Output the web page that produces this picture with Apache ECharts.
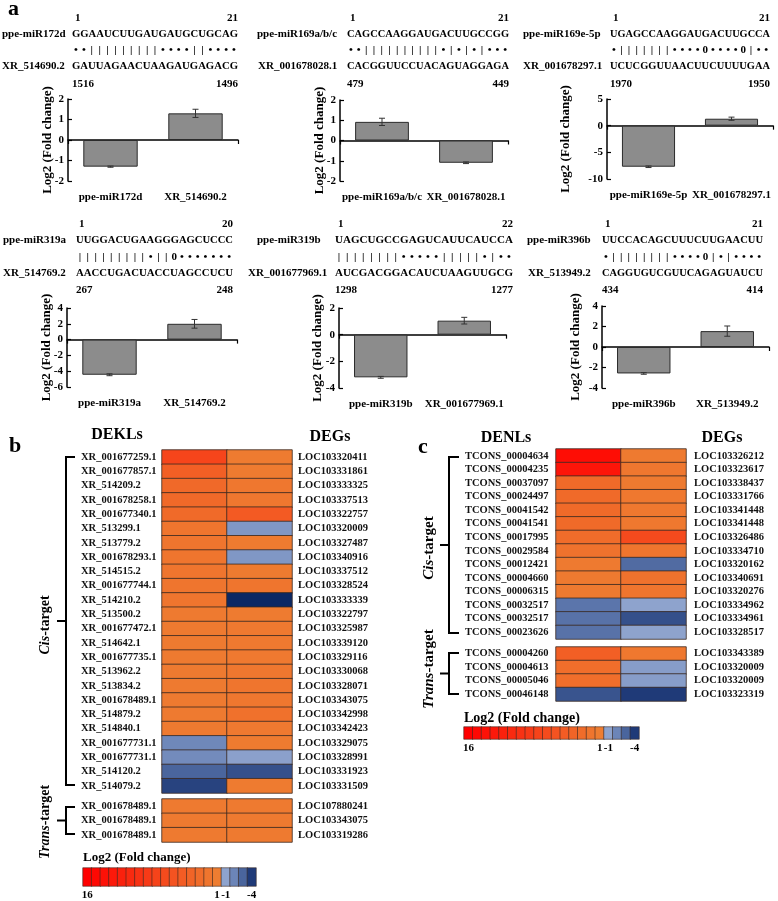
<!DOCTYPE html>
<html><head><meta charset="utf-8">
<script src="https://cdn.jsdelivr.net/npm/echarts@6/dist/echarts.min.js"></script>
<style>html,body{margin:0;padding:0;background:#fff}#c{width:778px;height:901px}</style>
</head><body><div id="c"></div>
<script>
// ---------------- DATA ----------------
const p1Cats = ['ppe-miR172d', 'XR_514690.2'];
const p1Vals = [-1.3, 1.3];
const p1Errs = [0.03, 0.2];
const p1Seq = ['ppe-miR172d', 'GGAAUCUUGAUGAUGCUGCAG', '••|||||||||••••||••••', 'XR_514690.2', 'GAUUAGAACUAAGAUGAGACG'];
const p1Nums = ['1', '21', '1516', '1496'];

const p2Cats = ['ppe-miR169a/b/c', 'XR_001678028.1'];
const p2Vals = [0.92, -1.1];
const p2Errs = [0.18, 0.04];
const p2Seq = ['ppe-miR169a/b/c', 'CAGCCAAGGAUGACUUGCCGG', '••||||||||||•|•|•|•••', 'XR_001678028.1', 'CACGGUUCCUACAGUAGGAGA'];
const p2Nums = ['1', '21', '479', '449'];

const p3Cats = ['ppe-miR169e-5p', 'XR_001678297.1'];
const p3Vals = [-7.7, 1.3];
const p3Errs = [0.15, 0.3];
const p3Seq = ['ppe-miR169e-5p', 'UGAGCCAAGGAUGACUUGCCA', '•|||||||••••0••••0|••', 'XR_001678297.1', 'UCUCGGUUAACUUCUUUUGAA'];
const p3Nums = ['1', '21', '1970', '1950'];

const p4Cats = ['ppe-miR319a', 'XR_514769.2'];
const p4Vals = [-4.45, 2.0];
const p4Errs = [0.12, 0.55];
const p4Seq = ['ppe-miR319a', 'UUGGACUGAAGGGAGCUCCC', '|||||||||•||0•••••••', 'XR_514769.2', 'AACCUGACUACCUAGCCUCU'];
const p4Nums = ['1', '20', '267', '248'];

const p5Cats = ['ppe-miR319b', 'XR_001677969.1'];
const p5Vals = [-3.2, 1.05];
const p5Errs = [0.07, 0.25];
const p5Seq = ['ppe-miR319b', 'UAGCUGCCGAGUCAUUCAUCCA', '||||||||•••••|||||•|••', 'XR_001677969.1', 'AUCGACGGACAUCUAAGUUGCG'];
const p5Nums = ['1', '22', '1298', '1277'];

const p6Cats = ['ppe-miR396b', 'XR_513949.2'];
const p6Vals = [-2.58, 1.55];
const p6Errs = [0.08, 0.5];
const p6Seq = ['ppe-miR396b', 'UUCCACAGCUUUCUUGAACUU', '•||||||||••••0|•|••••', 'XR_513949.2', 'CAGGUGUCGUUCAGAGUAUCU'];
const p6Nums = ['1', '21', '434', '414'];

const bCisDEKL = ['XR_001677259.1','XR_001677857.1','XR_514209.2','XR_001678258.1','XR_001677340.1','XR_513299.1','XR_513779.2','XR_001678293.1','XR_514515.2','XR_001677744.1','XR_514210.2','XR_513500.2','XR_001677472.1','XR_514642.1','XR_001677735.1','XR_513962.2','XR_513834.2','XR_001678489.1','XR_514879.2','XR_514840.1','XR_001677731.1','XR_001677731.1','XR_514120.2','XR_514079.2'];
const bCisDEG = ['LOC103320411','LOC103331861','LOC103333325','LOC103337513','LOC103322757','LOC103320009','LOC103327487','LOC103340916','LOC103337512','LOC103328524','LOC103333339','LOC103322797','LOC103325987','LOC103339120','LOC103329116','LOC103330068','LOC103328071','LOC103343075','LOC103342998','LOC103342423','LOC103329075','LOC103328991','LOC103331923','LOC103331509'];
const bCisKL = [7.8, 4.6, 3.4, 3.4, 3.2, 2.0, 2.0, 2.0, 2.0, 2.0, 2.0, 1.4, 1.4, 1.4, 1.4, 1.4, 1.4, 1.4, 1.4, 1.4, -1.9, -1.8, -3.0, -3.8];
const bCisG  = [1.3, 1.3, 1.8, 1.8, 5.2, -1.4, 1.3, -1.4, 1.3, 2.0, -5.0, 1.3, 1.5, 1.5, 1.5, 1.8, 2.0, 1.8, 2.5, 1.5, 1.3, -1.1, -3.5, 1.3];
const bTransDEKL = ['XR_001678489.1','XR_001678489.1','XR_001678489.1'];
const bTransDEG = ['LOC107880241','LOC103343075','LOC103319286'];
const bTransKL = [1.4, 1.4, 1.4];
const bTransG  = [1.4, 1.4, 1.4];

const cCisDENL = ['TCONS_00004634','TCONS_00004235','TCONS_00037097','TCONS_00024497','TCONS_00041542','TCONS_00041541','TCONS_00017995','TCONS_00029584','TCONS_00012421','TCONS_00004660','TCONS_00006315','TCONS_00032517','TCONS_00032517','TCONS_00023626'];
const cCisDEG = ['LOC103326212','LOC103323617','LOC103338437','LOC103331766','LOC103341448','LOC103341448','LOC103326486','LOC103334710','LOC103320162','LOC103340691','LOC103320276','LOC103334962','LOC103334961','LOC103328517'];
const cCisNL = [14.5, 13.5, 3.2, 3.2, 3.2, 3.2, 3.0, 2.3, 1.4, 1.4, 1.4, -2.5, -2.6, -2.6];
const cCisG  = [1.4, 1.8, 1.4, 1.6, 1.6, 1.6, 7.1, 2.0, -2.8, 2.3, 2.0, -1.0, -3.5, -1.0];
const cTransDENL = ['TCONS_00004260','TCONS_00004613','TCONS_00005046','TCONS_00046148'];
const cTransDEG = ['LOC103343389','LOC103320009','LOC103320009','LOC103323319'];
const cTransNL = [4.6, 2.8, 2.8, -3.4];
const cTransG  = [1.6, -1.2, -1.2, -4.0];

const legendVals = [16, 15, 14, 13, 12, 11, 10, 9, 8, 7, 6, 5, 4, 3, 2, 1, -1, -2, -3, -4];
const legendTicks = ['16', '1', '-1', '-4'];
const yTitle = 'Log2 (Fold change)';

// ---------------- STYLE / LAYOUT ----------------
const FONT = "'Liberation Serif','Times New Roman',serif";
const ctx = document.createElement('canvas').getContext('2d');
function tw(str, size, weight) { ctx.font = (weight || 'bold') + ' ' + size + "px 'Liberation Serif'"; return ctx.measureText(str).width; }
function txt(str, x, y, o) {
  o = o || {};
  return { type: 'text', x: x, y: y, rotation: o.rot || 0, scaleX: o.sx || 1, silent: true, z: 10,
    style: { text: str, fill: '#000', fontFamily: FONT, fontWeight: o.w || 'bold', fontSize: o.size || 11,
      fontStyle: o.fs || 'normal', align: o.align || 'left', verticalAlign: o.va || 'middle', rich: o.rich } };
}

const rowsY = [[18, 34, 50, 66, 84], [224, 240, 257, 273, 290]];
const barPanels = [
  { cats: p1Cats, vals: p1Vals, errs: p1Errs, seq: p1Seq, nums: p1Nums, min: -2, max: 2, interval: 1, grid: { left: 68, top: 99, width: 170, height: 82 }, gap: 14, t: { row: 0, lab: 2, tlab: 2, s0: 72, s1: 238 } },
  { cats: p2Cats, vals: p2Vals, errs: p2Errs, seq: p2Seq, nums: p2Nums, min: -2, max: 2, interval: 1, grid: { left: 340, top: 100, width: 168, height: 81 }, gap: 13.5, t: { row: 0, lab: 257, tlab: 258, s0: 347, s1: 509 } },
  { cats: p3Cats, vals: p3Vals, errs: p3Errs, seq: p3Seq, nums: p3Nums, min: -10, max: 5, interval: 5, grid: { left: 607, top: 99, width: 166, height: 80 }, gap: 34.5, t: { row: 0, lab: 523, tlab: 523, s0: 610, s1: 770 } },
  { cats: p4Cats, vals: p4Vals, errs: p4Errs, seq: p4Seq, nums: p4Nums, min: -6, max: 4, interval: 2, grid: { left: 67, top: 308, width: 170, height: 79 }, gap: 13.5, t: { row: 1, lab: 3, tlab: 3, s0: 76, s1: 233 } },
  { cats: p5Cats, vals: p5Vals, errs: p5Errs, seq: p5Seq, nums: p5Nums, min: -4, max: 2, interval: 2, grid: { left: 339, top: 308, width: 167, height: 80 }, gap: 14.5, t: { row: 1, lab: 257, tlab: 248, s0: 335, s1: 513 } },
  { cats: p6Cats, vals: p6Vals, errs: p6Errs, seq: p6Seq, nums: p6Nums, min: -4, max: 4, interval: 2, grid: { left: 602, top: 306, width: 167, height: 82 }, gap: 19.5, t: { row: 1, lab: 527, tlab: 528, s0: 602, s1: 763 } }
];

const grids = [], xAxes = [], yAxes = [], series = [], graphics = [], heatIdx = [];
const boldLab = { fontFamily: FONT, fontWeight: 'bold', fontSize: 11, color: '#000' };

function errItem(params, api) {
  const x = api.value(0), v = api.value(1), e = api.value(2);
  const a = api.coord([x, v + e]), b = api.coord([x, v - e]);
  const w = 3, st = { stroke: '#333', lineWidth: 1 };
  return { type: 'group', children: [
    { type: 'line', shape: { x1: a[0], y1: a[1], x2: b[0], y2: b[1] }, style: st },
    { type: 'line', shape: { x1: a[0] - w, y1: a[1], x2: a[0] + w, y2: a[1] }, style: st },
    { type: 'line', shape: { x1: b[0] - w, y1: b[1], x2: b[0] + w, y2: b[1] }, style: st }
  ] };
}

barPanels.forEach(function (p) {
  const gi = grids.length;
  grids.push(p.grid);
  const yi = yAxes.length;
  const xl = xAxes.length;
  xAxes.push({ type: 'category', gridIndex: gi, data: p.cats, position: 'bottom',
    axisLine: { show: false, onZero: false }, axisTick: { show: false },
    axisLabel: Object.assign({ margin: 11, interval: 0 }, boldLab) });
  xAxes.push({ type: 'category', gridIndex: gi, data: p.cats, position: 'bottom',
    axisLine: { show: true, onZero: true, onZeroAxisIndex: yi, lineStyle: { color: '#000', width: 1.5 } },
    axisTick: { show: true, length: 4, lineStyle: { color: '#000', width: 1.2 } }, axisLabel: { show: false } });
  yAxes.push({ type: 'value', gridIndex: gi, min: p.min, max: p.max, interval: p.interval,
    axisLine: { show: true, onZero: false, lineStyle: { color: '#000', width: 1.5 } },
    axisTick: { show: true, inside: true, length: 4, lineStyle: { color: '#000', width: 1.2 } },
    axisLabel: Object.assign({ margin: 4 }, boldLab), splitLine: { show: false },
    name: yTitle, nameLocation: 'middle', nameRotate: 90, nameGap: p.gap, nameMoveOverlap: false,
    nameTextStyle: { fontFamily: FONT, fontWeight: 'bold', fontSize: 13, color: '#000' } });
  series.push({ type: 'bar', xAxisIndex: xl, yAxisIndex: yi, data: p.vals, barWidth: '64%', silent: true,
    itemStyle: { color: '#8c8c8c', borderColor: '#2b2b2b', borderWidth: 1 } });
  series.push({ type: 'custom', xAxisIndex: xl, yAxisIndex: yi, silent: true, z: 5,
    data: p.vals.map(function (v, i) { return [i, v, p.errs[i]]; }),
    encode: { x: 0, y: 1 }, renderItem: errItem });

  // alignment text
  const Y = rowsY[p.t.row], t = p.t;
  graphics.push(txt(p.nums[0], t.s0 + 3, Y[0]));
  graphics.push(txt(p.nums[1], t.s1, Y[0], { align: 'right' }));
  graphics.push(txt(p.seq[0], t.lab, Y[1]));
  graphics.push(txt(p.seq[1], t.s0, Y[1], { sx: (t.s1 - t.s0) / tw(p.seq[1], 11) }));
  const m = Array.from(p.seq[2]);
  const pitch = (t.s1 - t.s0) / m.length;
  m.forEach(function (ch, i) { graphics.push(txt(ch, t.s0 + pitch * (i + 0.5), Y[2], { align: 'center' })); });
  graphics.push(txt(p.seq[3], t.tlab, Y[3]));
  graphics.push(txt(p.seq[4], t.s0, Y[3], { sx: (t.s1 - t.s0) / tw(p.seq[4], 11) }));
  graphics.push(txt(p.nums[2], t.s0, Y[4]));
  graphics.push(txt(p.nums[3], t.s1, Y[4], { align: 'right' }));
});

const cellStyle = { borderColor: '#3a2a22', borderWidth: 0.8 };
function heatBlock(grid, leftNames, rightNames, leftVals, rightVals, lm, rm) {
  const gi = grids.length; grids.push(grid);
  const xi = xAxes.length;
  xAxes.push({ type: 'category', gridIndex: gi, data: ['L', 'R'], show: false });
  const yl = yAxes.length;
  const lab = Object.assign({ interval: 0, fontSize: 10.5 }, { fontFamily: FONT, fontWeight: 'bold', color: '#111' });
  yAxes.push({ type: 'category', gridIndex: gi, data: leftNames, inverse: true, position: 'left',
    axisLine: { show: false }, axisTick: { show: false }, axisLabel: Object.assign({ margin: lm, align: 'left' }, lab) });
  yAxes.push({ type: 'category', gridIndex: gi, data: rightNames, inverse: true, position: 'right',
    axisLine: { show: false }, axisTick: { show: false }, axisLabel: Object.assign({ margin: rm, align: 'left' }, lab) });
  const data = leftVals.map(function (v, i) { return [0, i, v]; }).concat(rightVals.map(function (v, i) { return [1, i, v]; }));
  heatIdx.push(series.length);
  series.push({ type: 'heatmap', xAxisIndex: xi, yAxisIndex: yl, data: data, silent: true, itemStyle: cellStyle });
}
heatBlock({ left: 162, top: 450, width: 130, height: 343 }, bCisDEKL, bCisDEG, bCisKL, bCisG, 81, 6);
heatBlock({ left: 162, top: 799, width: 130, height: 43 }, bTransDEKL, bTransDEG, bTransKL, bTransG, 81, 6);
heatBlock({ left: 556, top: 449, width: 130, height: 190 }, cCisDENL, cCisDEG, cCisNL, cCisG, 91, 8);
heatBlock({ left: 556, top: 647, width: 130, height: 54 }, cTransDENL, cTransDEG, cTransNL, cTransG, 91, 8);

function legendBar(grid) {
  const gi = grids.length; grids.push(grid);
  const xi = xAxes.length;
  xAxes.push({ type: 'category', gridIndex: gi, data: legendVals.map(String), axisLine: { show: false }, axisTick: { show: false },
    axisLabel: Object.assign({ interval: 0, margin: 4, formatter: function (v) { return legendTicks.indexOf(v) >= 0 ? v : ''; } }, boldLab) });
  const yi = yAxes.length;
  yAxes.push({ type: 'category', gridIndex: gi, data: ['v'], show: false });
  heatIdx.push(series.length);
  series.push({ type: 'heatmap', xAxisIndex: xi, yAxisIndex: yi, silent: true, itemStyle: { borderColor: '#3a2a22', borderWidth: 0.6 },
    data: legendVals.map(function (v, i) { return [i, 0, v]; }) });
}
legendBar({ left: 83, top: 868, width: 173, height: 18 });
legendBar({ left: 464, top: 727, width: 175, height: 12 });

// colour stops for -5 .. 16
const stops = ['#0c2864', '#1f3a78', '#4a659d', '#6c85b8', '#8ea3cd', '#8ea3cd'];
for (let k = 1; k <= 16; k++) {
  const t = (k - 1) / 15;
  const r = Math.round(238 + 17 * t), g = Math.round(125 * (1 - t)), b = Math.round(49 * (1 - t));
  stops.push('rgb(' + r + ',' + g + ',' + b + ')');
}

// panel letters / headers / brackets
graphics.push(txt('a', 8, 9, { size: 22 }));
graphics.push(txt('b', 9, 446, { size: 22 }));
graphics.push(txt('c', 418, 447, { size: 22 }));
graphics.push(txt('DEKLs', 117, 435, { size: 16, align: 'center' }));
graphics.push(txt('DEGs', 330, 437, { size: 16, align: 'center' }));
graphics.push(txt('DENLs', 506, 438, { size: 16, align: 'center' }));
graphics.push(txt('DEGs', 722, 438, { size: 16, align: 'center' }));
graphics.push(txt(yTitle, 83, 858, { size: 13 }));
graphics.push(txt(yTitle, 464, 718, { size: 14 }));

function bracket(x, y0, y1, tip) {
  const st = { stroke: '#000', lineWidth: 2, fill: null };
  graphics.push({ type: 'polyline', silent: true, shape: { points: [[x + tip, y0], [x, y0], [x, y1], [x + tip, y1]] }, style: st });
  const ym = (y0 + y1) / 2;
  graphics.push({ type: 'line', silent: true, shape: { x1: x - 9, y1: ym, x2: x, y2: ym }, style: st });
}
bracket(66, 457, 785, 9);
bracket(66, 807, 834, 9);
bracket(449, 457, 633, 10);
bracket(449, 653, 694, 10);

function sideLabel(main, x, y, size) {
  graphics.push(txt('{i|' + main + '}{n|-target}', x, y, { rot: Math.PI / 2, align: 'center', size: size,
    rich: { i: { fontStyle: 'italic', fontWeight: 'bold', fontFamily: FONT, fontSize: size, fill: '#000' },
            n: { fontWeight: 'bold', fontFamily: FONT, fontSize: size, fill: '#000' } } }));
}
sideLabel('Cis', 45, 625, 14);
sideLabel('Trans', 45, 822, 14);
sideLabel('Cis', 429, 548, 15);
sideLabel('Trans', 429, 669, 15);

const chart = echarts.init(document.getElementById('c'), null, { renderer: 'canvas' });
chart.setOption({
  backgroundColor: '#fff',
  animation: false,
  textStyle: { fontFamily: FONT },
  grid: grids,
  xAxis: xAxes,
  yAxis: yAxes,
  visualMap: { type: 'continuous', show: false, min: -5, max: 16, dimension: 2, seriesIndex: heatIdx, inRange: { color: stops } },
  series: series,
  graphic: { elements: graphics }
});
</script></body></html>
